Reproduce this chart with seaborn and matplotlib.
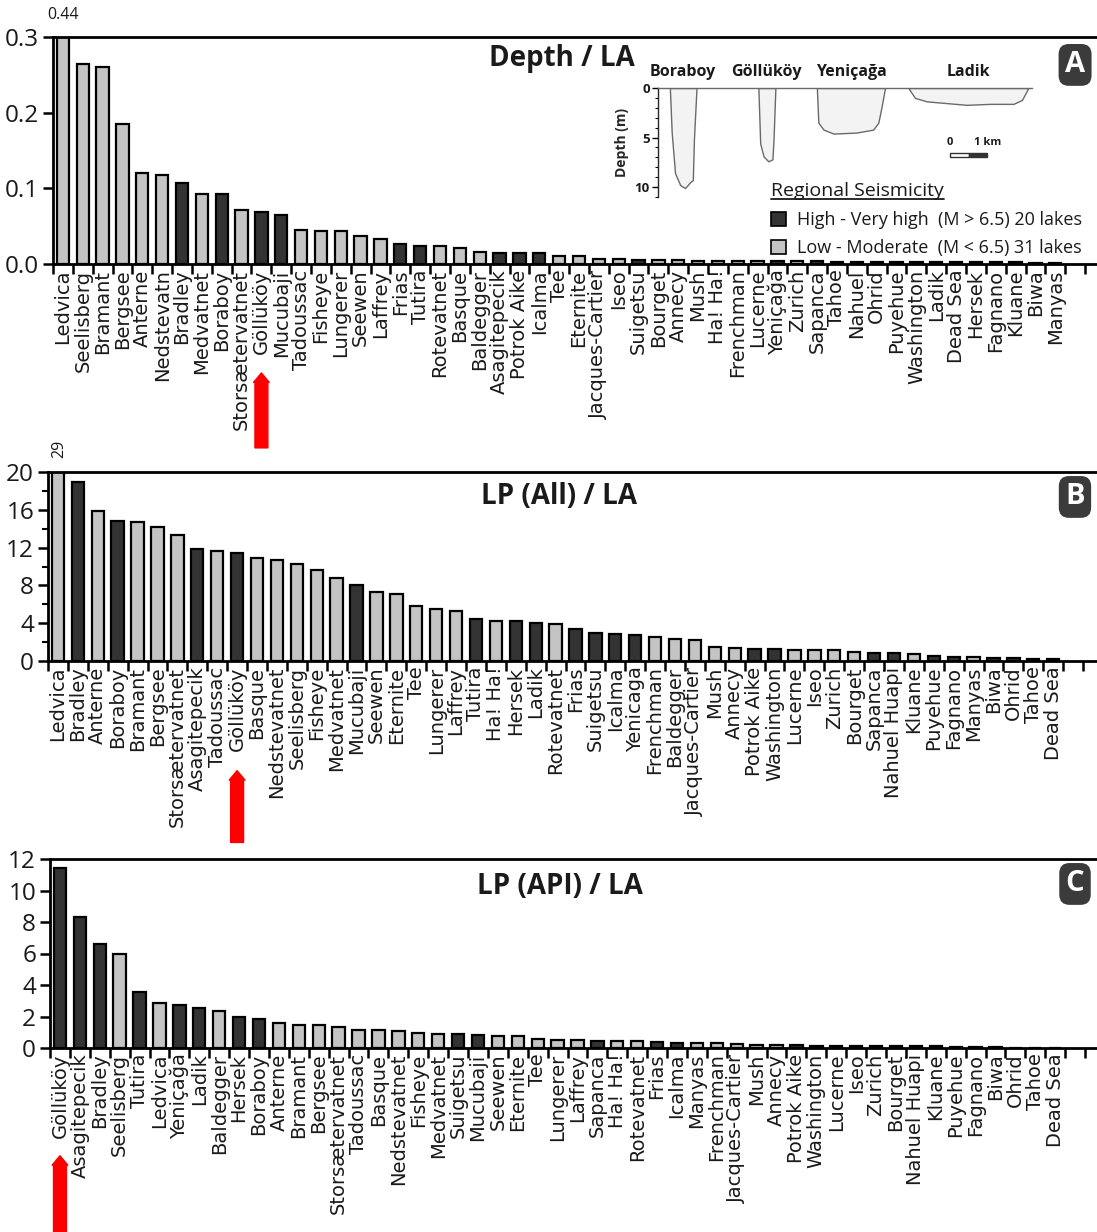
import numpy as np
import pandas as pd
import matplotlib
matplotlib.use('Agg')
import matplotlib.pyplot as plt
import seaborn as sns
from matplotlib.patches import Patch, Rectangle
from matplotlib.lines import Line2D
from matplotlib.transforms import blended_transform_factory

# ---------------- data ----------------
lakes_a = ['Ledvica', 'Seelisberg', 'Bramant', 'Bergsee', 'Anterne', 'Nedstevatn', 'Bradley',
           'Medvatnet', 'Boraboy', 'Storsætervatnet', 'Göllüköy', 'Mucubaji', 'Tadoussac',
           'Fisheye', 'Lungerer', 'Seewen', 'Laffrey', 'Frias', 'Tutira', 'Rotevatnet', 'Basque',
           'Baldegger', 'Asagitepecik', 'Potrok Aike', 'Icalma', 'Tee', 'Eternite',
           'Jacques-Cartier', 'Iseo', 'Suigetsu', 'Bourget', 'Annecy', 'Mush', 'Ha! Ha!',
           'Frenchman', 'Lucerne', 'Yeniçağa', 'Zurich', 'Sapanca', 'Tahoe', 'Nahuel', 'Ohrid',
           'Puyehue', 'Washington', 'Ladik', 'Dead Sea', 'Hersek', 'Fagnano', 'Kluane', 'Biwa',
           'Manyas']
depth_la = [0.44, 0.264, 0.26, 0.185, 0.12, 0.117, 0.107, 0.093, 0.092, 0.071, 0.069, 0.065,
            0.045, 0.043, 0.043, 0.037, 0.033, 0.027, 0.024, 0.024, 0.021, 0.016, 0.014, 0.014,
            0.014, 0.010, 0.010, 0.007, 0.006, 0.005, 0.005, 0.005, 0.004, 0.004, 0.004, 0.004,
            0.004, 0.004, 0.004, 0.003, 0.003, 0.003, 0.003, 0.003, 0.002, 0.002, 0.002, 0.002,
            0.002, 0.001, 0.001]

lakes_b = ['Ledvica', 'Bradley', 'Anterne', 'Boraboy', 'Bramant', 'Bergsee', 'Storsætervatnet',
           'Asagitepecik', 'Tadoussac', 'Göllüköy', 'Basque', 'Nedstevatnet', 'Seelisberg',
           'Fisheye', 'Medvatnet', 'Mucubaji', 'Seewen', 'Eternite', 'Tee', 'Lungerer', 'Laffrey',
           'Tutira', 'Ha! Ha!', 'Hersek', 'Ladik', 'Rotevatnet', 'Frias', 'Suigetsu', 'Icalma',
           'Yenicaga', 'Frenchman', 'Baldegger', 'Jacques-Cartier', 'Mush', 'Annecy',
           'Potrok Aike', 'Washington', 'Lucerne', 'Iseo', 'Zurich', 'Bourget', 'Sapanca',
           'Nahuel Huapi', 'Kluane', 'Puyehue', 'Fagnano', 'Manyas', 'Biwa', 'Ohrid', 'Tahoe',
           'Dead Sea']
lp_all_la = [29, 18.9, 15.9, 14.8, 14.7, 14.2, 13.3, 11.85, 11.6, 11.4, 10.9, 10.65, 10.3, 9.6,
             8.8, 8.0, 7.3, 7.1, 5.8, 5.5, 5.3, 4.4, 4.2, 4.2, 4.0, 3.9, 3.4, 2.95, 2.85, 2.7,
             2.55, 2.35, 2.2, 1.5, 1.4, 1.3, 1.3, 1.2, 1.2, 1.15, 1.0, 0.85, 0.8, 0.78, 0.56,
             0.46, 0.38, 0.33, 0.28, 0.26, 0.25]

lakes_c = ['Göllüköy', 'Asagitepecik', 'Bradley', 'Seelisberg', 'Tutira', 'Ledvica', 'Yeniçağa',
           'Ladik', 'Baldegger', 'Hersek', 'Boraboy', 'Anterne', 'Bramant', 'Bergsee',
           'Storsætervatnet', 'Tadoussac', 'Basque', 'Nedstevatnet', 'Fisheye', 'Medvatnet',
           'Suigetsu', 'Mucubaji', 'Seewen', 'Eternite', 'Tee', 'Lungerer', 'Laffrey', 'Sapanca',
           'Ha! Ha!', 'Rotevatnet', 'Frias', 'Icalma', 'Manyas', 'Frenchman', 'Jacques-Cartier',
           'Mush', 'Annecy', 'Potrok Aike', 'Washington', 'Lucerne', 'Iseo', 'Zurich', 'Bourget',
           'Nahuel Huapi', 'Kluane', 'Puyehue', 'Fagnano', 'Biwa', 'Ohrid', 'Tahoe', 'Dead Sea']
lp_api_la = [11.45, 8.3, 6.6, 6.0, 3.56, 2.88, 2.71, 2.56, 2.37, 1.99, 1.84, 1.61, 1.46, 1.46,
             1.36, 1.17, 1.12, 1.08, 0.98, 0.89, 0.89, 0.85, 0.74, 0.74, 0.6, 0.53, 0.53, 0.47,
             0.45, 0.42, 0.4, 0.34, 0.3, 0.3, 0.25, 0.19, 0.17, 0.16, 0.15, 0.15, 0.14, 0.13,
             0.12, 0.11, 0.1, 0.08, 0.07, 0.04, 0.0, 0.0, 0.0]

high_seismicity = {'Bradley', 'Boraboy', 'Asagitepecik', 'Göllüköy', 'Mucubaji', 'Tutira',
                   'Hersek', 'Ladik', 'Frias', 'Suigetsu', 'Icalma', 'Yeniçağa', 'Yenicaga',
                   'Potrok Aike', 'Washington', 'Sapanca', 'Nahuel', 'Nahuel Huapi', 'Puyehue',
                   'Fagnano', 'Biwa', 'Ohrid', 'Tahoe', 'Dead Sea'}

legend_labels = ['High - Very high  (M > 6.5) 20 lakes', 'Low - Moderate  (M < 6.5) 31 lakes']

# inset cross-section profiles (distance km, depth m)
profile_names = ['Boraboy', 'Göllüköy', 'Yeniçağa', 'Ladik']
boraboy_x = [0.32, 0.37, 0.46, 0.60, 0.73, 0.87, 0.94, 0.97, 1.04]
boraboy_d = [0, 4.5, 8.6, 9.8, 10.1, 9.5, 9.3, 5.2, 0]
gollukoy_x = [2.71, 2.76, 2.85, 2.98, 3.09, 3.12, 3.17]
gollukoy_d = [0, 5.6, 6.9, 7.4, 7.2, 5.2, 0]
yenicaga_x = [4.29, 4.33, 4.47, 4.74, 5.36, 5.81, 5.95, 6.04, 6.13]
yenicaga_d = [0, 3.5, 4.2, 4.6, 4.5, 4.2, 3.5, 1.85, 0]
ladik_x = [6.76, 6.94, 7.26, 8.34, 8.97, 9.6, 9.83, 10.0]
ladik_d = [0, 1.0, 1.35, 1.7, 1.6, 1.6, 1.2, 0]

# ---------------- style ----------------
sns.set_theme(style='ticks')
plt.rcParams['font.family'] = ['Open Sans', 'DejaVu Sans']
plt.rcParams['text.color'] = '#1a1a1a'
plt.rcParams['xtick.color'] = 'black'
plt.rcParams['ytick.color'] = 'black'
plt.rcParams['xtick.labelcolor'] = '#1a1a1a'
plt.rcParams['ytick.labelcolor'] = '#1a1a1a'

DARK = '#333333'
LIGHT = '#c4c4c4'
pal = {'High': DARK, 'Low': LIGHT}

W, H = 1097, 1232
fig = plt.figure(figsize=(W / 100, H / 100), dpi=100)
fig.patch.set_facecolor('white')


def fig_axes(left_px, top_px, bottom_px, right_px=W):
    return fig.add_axes([left_px / W, 1 - bottom_px / H,
                         (right_px - left_px) / W, (bottom_px - top_px) / H])


def draw_panel(ax, names, values, ymax, yticks, yticklabels, minor_step, title, title_y,
               letter, letter_y, xmax):
    df = pd.DataFrame({'lake': names, 'value': values,
                       'seis': ['High' if n in high_seismicity else 'Low' for n in names]})
    sns.barplot(data=df, x='lake', y='value', hue='seis', hue_order=['High', 'Low'],
                palette=pal, order=names, dodge=False, width=0.62, edgecolor='black',
                linewidth=1.6, saturation=1, ax=ax, legend=False)
    ax.set_xlim(-0.5, xmax)
    ax.set_ylim(0, ymax)
    ax.set_xlabel('')
    ax.set_ylabel('')
    ax.set_xticks(range(len(names)))
    ax.set_xticklabels(names, rotation=90, fontsize=14, family=['DejaVu Sans'])
    ax.set_xticks(np.arange(-0.5, xmax, 1.0), minor=True)
    ax.tick_params(axis='x', which='major', length=0, pad=4)
    ax.tick_params(axis='x', which='minor', length=7, width=1.8, direction='out')
    ax.set_yticks(yticks)
    ax.set_yticklabels(yticklabels, fontsize=17.5)
    if minor_step:
        ax.set_yticks(np.arange(0, ymax + 1e-9, minor_step), minor=True)
    ax.tick_params(axis='y', which='major', length=7, width=1.8, pad=3)
    ax.tick_params(axis='y', which='minor', length=4, width=1.5)
    for s in ['top', 'left', 'bottom']:
        ax.spines[s].set_linewidth(2)
        ax.spines[s].set_color('black')
    ax.spines['right'].set_visible(False)
    ax.set_facecolor('white')
    ax.text(0.487, title_y, title, transform=ax.transAxes, ha='center', va='center',
            fontsize=20, fontweight='bold')
    ax.text(0.979, letter_y, letter, transform=ax.transAxes, ha='center', va='center',
            fontsize=21, fontweight='bold', color='white',
            bbox=dict(boxstyle='round,pad=0.22,rounding_size=0.35', fc='#3b3b3b', ec='none'))


def red_arrow(ax, idx, y_tip, y_tail):
    trans = blended_transform_factory(ax.transData, ax.transAxes)
    ax.annotate('', xy=(idx, y_tip), xytext=(idx, y_tail), xycoords=trans, textcoords=trans,
                annotation_clip=False,
                arrowprops=dict(arrowstyle='simple,head_length=0.45,head_width=0.75,tail_width=0.62',
                                color='#ff0000', mutation_scale=15, shrinkA=0, shrinkB=0))


axA = fig_axes(53, 37, 264)
axB = fig_axes(48, 472, 661)
axC = fig_axes(50, 859, 1048)

draw_panel(axA, lakes_a, depth_la, 0.3, [0, 0.1, 0.2, 0.3], ['0.0', '0.1', '0.2', '0.3'],
           None, 'Depth / LA', 0.907, 'A', 0.877, 52.1)
draw_panel(axB, lakes_b, lp_all_la, 20, [0, 4, 8, 12, 16, 20], ['0', '4', '8', '12', '16', '20'],
           2, 'LP (All) / LA', 0.868, 'B', 0.868, 52.2)
draw_panel(axC, lakes_c, lp_api_la, 12, [0, 2, 4, 6, 8, 10, 12],
           ['0', '2', '4', '6', '8', '10', '12'], None, 'LP (API) / LA', 0.857, 'C', 0.868, 52.1)

# values of clipped bars
axA.annotate(f'{depth_la[0]:.2f}', xy=(0, 1), xycoords=('data', 'axes fraction'),
             xytext=(0, 10), textcoords='offset points', ha='center', va='bottom', fontsize=11.5)
axB.annotate(f'{lp_all_la[0]:g}', xy=(0, 1), xycoords=('data', 'axes fraction'),
             xytext=(1, 10), textcoords='offset points', ha='center', va='bottom', fontsize=11.5,
             rotation=90)

# red arrows under Göllüköy
red_arrow(axA, lakes_a.index('Göllüköy'), -0.48, -0.81)
red_arrow(axB, lakes_b.index('Göllüköy'), -0.58, -0.96)
red_arrow(axC, lakes_c.index('Göllüköy'), -0.57, -0.99)

# legend
handles = [Patch(facecolor=DARK, edgecolor='black', linewidth=1.2, label=legend_labels[0]),
           Patch(facecolor=LIGHT, edgecolor='black', linewidth=1.2, label=legend_labels[1])]
leg = axA.legend(handles=handles, title='Regional Seismicity', loc='upper left',
                 bbox_to_anchor=(0.688, 0.36), frameon=False, fontsize=13,
                 title_fontsize=14, handlelength=0.8, handleheight=0.8, handletextpad=0.6,
                 borderaxespad=0, borderpad=0, labelspacing=0.55, alignment='left')
leg._legend_box.sep = 8

# inset with lake cross-sections
axIn = fig.add_axes([658 / W, 1 - 197 / H, (1032 - 658) / W, 109 / H])
axIn.patch.set_alpha(0)
profiles = [(boraboy_x, boraboy_d), (gollukoy_x, gollukoy_d), (yenicaga_x, yenicaga_d),
            (ladik_x, ladik_d)]
for name, (px, pd_) in zip(profile_names, profiles):
    axIn.fill_between(px, 0, pd_, facecolor='#f3f3f3', edgecolor='#6a6a6a', linewidth=1.0)
    axIn.text((min(px) + max(px)) / 2, -1.6, name, ha='center', va='center', fontsize=11.5,
              fontweight='bold', clip_on=False)
axIn.set_xlim(0, 10.1)
axIn.set_ylim(11, 0)
axIn.set_xticks([])
axIn.set_yticks([0, 5, 10])
axIn.set_yticklabels(['0', '5', '10'], fontsize=9.5, fontweight='bold')
axIn.set_yticks(np.arange(0, 11.01, 1), minor=True)
axIn.tick_params(axis='y', which='major', length=4, width=1, pad=2)
axIn.tick_params(axis='y', which='minor', length=2.5, width=0.8)
axIn.set_ylabel('Depth (m)', fontsize=10, fontweight='bold', labelpad=4)
axIn.spines['left'].set_linewidth(1)
axIn.spines['top'].set_color('#6a6a6a')
axIn.spines['top'].set_linewidth(1)
axIn.spines['right'].set_visible(False)
axIn.spines['bottom'].set_visible(False)
# scale bar 0 - 1 km
axIn.add_patch(Rectangle((7.89, 6.55), 0.5, 0.45, facecolor='white', edgecolor='#333333',
                         linewidth=1, clip_on=False))
axIn.add_patch(Rectangle((8.39, 6.55), 0.5, 0.45, facecolor='#333333', edgecolor='#333333',
                         linewidth=1, clip_on=False))
axIn.text(7.89, 6.1, '0', ha='center', va='bottom', fontsize=8, fontweight='bold')
axIn.text(8.89, 6.1, '1 km', ha='center', va='bottom', fontsize=8, fontweight='bold')

# underline legend title
fig.canvas.draw()
renderer = fig.canvas.get_renderer()
bb = leg.get_title().get_window_extent(renderer)
inv = fig.transFigure.inverted()
(x0, y0), (x1, _) = inv.transform([[bb.x0, bb.y0 + 1], [bb.x1, bb.y0]])
fig.add_artist(Line2D([x0, x1], [y0, y0], color='#1a1a1a', linewidth=1.3,
                      transform=fig.transFigure))

fig.savefig('out.png', dpi=100, facecolor='white')
